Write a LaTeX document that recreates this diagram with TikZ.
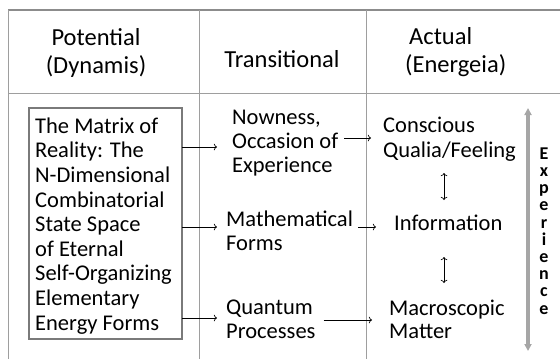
\documentclass[tikz,border=0pt]{standalone}
\usepackage{fontspec}
\setmainfont{Carlito}
\usetikzlibrary{arrows.meta}

\begin{document}
\begin{tikzpicture}[x=1bp,y=-1bp,
    rule/.style={draw=black!38,line width=0.8bp},
    head/.style={font=\fontsize{24.5bp}{28bp}\selectfont,inner sep=0pt},
    txt/.style={anchor=base west,align=left,inner sep=0pt,font=\fontsize{22.5bp}{24bp}\selectfont},
    link/.style={->,line width=0.7bp},
    both/.style={<->,line width=0.7bp}]
    \useasboundingbox (0,0) rectangle (560,359);

    % table lines
    \draw[rule,draw=black!45,line width=1.3bp] (8,10) -- (560,10);
    \draw[rule] (8,93) -- (560,93);
    \draw[rule] (8,10) -- (8,359);
    \draw[rule] (199,10) -- (199,359);
    \draw[rule] (366,10) -- (366,359);

    % headers (base = last line)
    \node[head,anchor=base,align=center] (HP) at (96,73) {Potential\\(Dynamis)};
    \node[head,anchor=base] (HT) at (282,67) {Transitional};
    \node[head,anchor=base west,align=left] (HA) at (405,72) {\hspace*{4bp}Actual\\(Energeia)};

    % potential
    \node[txt,font=\fontsize{22.5bp}{24.6bp}\selectfont] (PT) at (35,330)
        {The Matrix of\\Reality: The\\N-Dimensional\\Combinatorial\\State Space\\of Eternal\\Self-Organizing\\Elementary\\Energy Forms};
    \draw[draw=black!52,line width=2.2bp] (29,108) rectangle (182,339);
    \coordinate (PA) at (182,225);

    % transitional
    \node[txt] (TA) at (232,172) {Nowness,\\Occasion of\\Experience};
    \node[txt] (TB) at (226,250) {Mathematical\\Forms};
    \node[txt] (TC) at (226,338) {Quantum\\Processes};

    % actual
    \node[txt,font=\fontsize{22.5bp}{25bp}\selectfont] (AA) at (383,157) {Conscious\\Qualia/Feeling};
    \node[txt] (AB) at (394,230) {Information};
    \node[txt,font=\fontsize{22.5bp}{23bp}\selectfont] (AC) at (389,338) {Macroscopic\\Matter};

    \draw[link] (PA |- 0,147) -- ([xshift=-15bp]TA.west |- 0,147);
    \draw[link] (PA |- 0,227) -- ([xshift=-9bp]TB.west |- 0,227);
    \draw[link] (PA |- 0,318) -- ([xshift=-9bp]TC.west |- 0,318);

    \draw[link] ([xshift=6bp]TA.east |- 0,138) -- ([xshift=-12bp]AA.west |- 0,138);
    \draw[link] ([xshift=5bp]TB.east |- 0,227) -- ([xshift=-18bp]AB.west |- 0,227);
    \draw[link] ([xshift=8bp]TC.east |- 0,320) -- ([xshift=-17bp]AC.west |- 0,320);

    \draw[both] (444,173) -- (444,200);
    \draw[both] (444,257) -- (444,283);

    % experience
    \draw[{Triangle[length=7bp,width=7bp]}-{Triangle[length=7bp,width=7bp]},draw=black!35,line width=3.2bp] (528,108) -- (528,351);
    \node[font=\fontsize{18bp}{17.2bp}\selectfont\bfseries,align=center,inner sep=0pt,anchor=base] (EX) at (544,314)
        {E\\x\\p\\e\\r\\i\\e\\n\\c\\e};
\end{tikzpicture}
\end{document}
